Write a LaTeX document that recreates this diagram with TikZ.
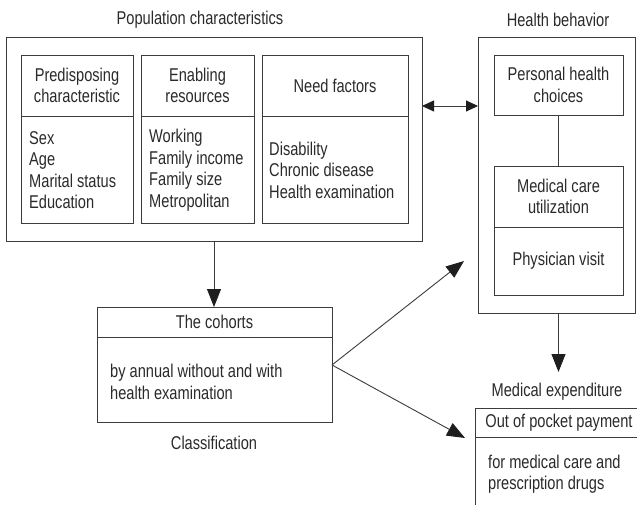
\documentclass[tikz,border=0pt]{standalone}
\usepackage{fontspec}
\setmainfont[FakeStretch=0.79]{Liberation Sans}
\usetikzlibrary{arrows.meta}
\definecolor{linec}{HTML}{3C3C3C}
\definecolor{textc}{HTML}{2A2A2A}
\definecolor{tipc}{HTML}{1E1E1E}

\begin{document}
\begin{tikzpicture}[x=1pt,y=-1pt,
  box/.style={draw=linec, line width=0.9pt, inner sep=0pt, outer sep=0pt, anchor=north west},
  lbl/.style={text=textc, font=\fontsize{18.5}{21.5}\selectfont, align=center, inner sep=0pt},
  lst/.style={lbl, align=left, anchor=west},
  link/.style={draw=linec, line width=0.9pt},
  arr/.style={link, -{Triangle[length=18pt,width=14pt,color=tipc]}},
  dblarr/.style={link, {Triangle[length=12pt,width=11pt,color=tipc]}-{Triangle[length=12pt,width=11pt,color=tipc]}},
]
\useasboundingbox[fill=white] (0,0) rectangle (637,505);

% ---- Population characteristics ----
\node[lbl] (poptitle) at (200,20) {Population characteristics};
\node[box, minimum width=416pt, minimum height=204pt] (pop) at (6,37) {};

\node[box, minimum width=112pt, minimum height=61pt]  (predh) at (21,55) {};
\node[box, minimum width=112pt, minimum height=107pt] (predb) at (21,116) {};
\node[lbl] at (predh.center) {Predisposing\\characteristic};
\node[lst] (predl) at (29,170) {Sex\\Age\\Marital status\\Education};

\node[box, minimum width=113pt, minimum height=61pt]  (enah) at (141,55) {};
\node[box, minimum width=113pt, minimum height=107pt] (enab) at (141,116) {};
\node[lbl] at (enah.center) {Enabling\\resources};
\node[lst] (enal) at (149,170) {Working\\Family income\\Family size\\Metropolitan};

\node[box, minimum width=146pt, minimum height=61pt]  (needh) at (262,55) {};
\node[box, minimum width=146pt, minimum height=107pt] (needb) at (262,116) {};
\node[lbl] at (needh.center) {Need factors};
\node[lst] (needl) at (269,170) {Disability\\Chronic disease\\Health examination};

% ---- Health behavior ----
\node[lbl] (hbtitle) at (558,20) {Health behavior};
\node[box, minimum width=157pt, minimum height=276pt] (hb) at (478,37) {};
\node[box, minimum width=129pt, minimum height=60pt] (pch) at (494,55) {};
\node[lbl] at (pch.center) {Personal health\\choices};
\node[box, minimum width=129pt, minimum height=61pt] (mcu) at (494,166) {};
\node[lbl] at (mcu.center) {Medical care\\utilization};
\node[box, minimum width=129pt, minimum height=68pt] (phv) at (494,227) {};
\node[lbl] at (phv.center) {Physician visit};
\draw[link] (pch.south) -- (mcu.north);

% ---- The cohorts ----
\node[box, minimum width=235pt, minimum height=30pt] (cohh) at (97,307) {};
\node[box, minimum width=235pt, minimum height=85pt] (cohb) at (97,337) {};
\node[lbl] at (cohh.center) {The cohorts};
\node[lst] (cohl) at (110,382) {by annual without and with\\health examination};
\node[lbl] (clsf) at (214,443) {Classification};

% ---- Medical expenditure ----
\node[lbl] (metitle) at (557,392) {Medical expenditure};
\begin{scope}
  \clip (0,0) rectangle (637,505);
  \node[box, minimum width=175pt, minimum height=29pt]  (ooph) at (475,408) {};
  \node[box, minimum width=175pt, minimum height=100pt] (oopb) at (475,437) {};
\end{scope}
\node[lbl] at (559,423) {Out of pocket payment};
\node[lst] (oopl) at (488,474) {for medical care and\\prescription drugs};

% ---- connectors ----
\coordinate (dy) at (0,106);
\coordinate (uptip) at (464,261);
\coordinate (lowtip) at (465,438);
\coordinate (medtip) at (558,372);

\draw[dblarr] (pop.east |- dy) -- (hb.west |- dy);
\draw[arr] (pop.south) -- (pop.south |- cohh.north);
\draw[arr] (cohb.east |- 0,365) -- (uptip);
\draw[arr] (cohb.east |- 0,365) -- (lowtip);
\draw[arr] (pch.south |- hb.south) -- (pch.south |- medtip);
\end{tikzpicture}
\end{document}
